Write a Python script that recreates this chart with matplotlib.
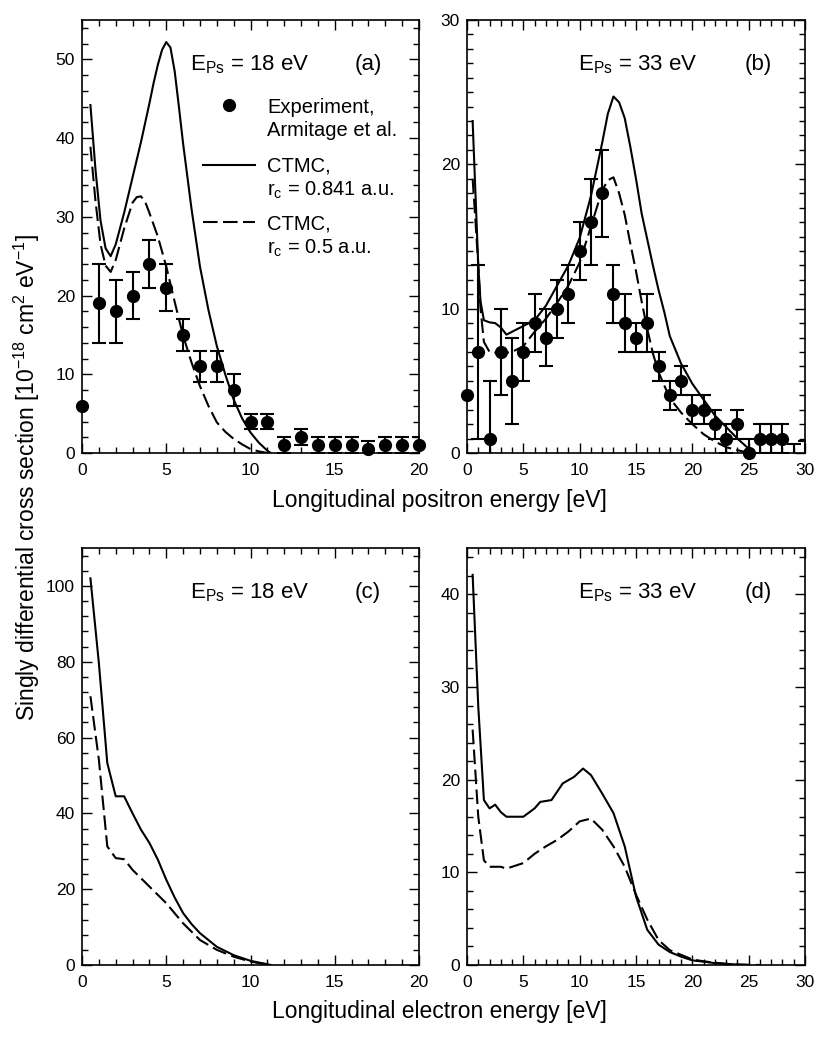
import numpy as np
import matplotlib
matplotlib.use("Agg")
import matplotlib.pyplot as plt
from matplotlib.ticker import MultipleLocator

plt.rcParams['font.family'] = ['Liberation Sans', 'DejaVu Sans']
plt.rcParams['mathtext.fontset'] = 'custom'
plt.rcParams['mathtext.rm'] = 'Liberation Sans'
plt.rcParams['mathtext.it'] = 'Liberation Sans'
plt.rcParams['mathtext.bf'] = 'Liberation Sans'

# ---------------- data ----------------
# (a) E_Ps = 18 eV, positron energy
exp_a_x = [0, 1, 2, 3, 4, 5, 6, 7, 8, 9, 10, 11, 12, 13, 14, 15, 16, 17, 18, 19, 20]
exp_a_y = [6, 19, 18, 20, 24, 21, 15, 11, 11, 8, 4, 4, 1, 2, 1, 1, 1, 0.5, 1, 1, 1]
exp_a_err = [0, 5, 4, 3, 3, 3, 2, 2, 2, 2, 1, 1, 1, 1, 1, 1, 1, 1, 1, 1, 1]

sol_a_x = [0.5, 0.8, 1.1, 1.4, 1.7, 2.0, 2.5, 3.0, 3.5, 4.0, 4.25, 4.5, 4.75, 5.0, 5.25, 5.5, 5.75, 6.0, 6.5, 7.0, 7.5, 8.0, 8.5, 9.0, 9.5, 10.0, 10.5, 11.0, 11.2]
sol_a_y = [44.2, 36.0, 29.5, 26.0, 25.0, 26.5, 30.5, 35.0, 39.5, 44.4, 47.0, 49.3, 51.2, 52.2, 51.5, 48.5, 44.0, 39.3, 31.0, 23.7, 18.2, 13.6, 10.0, 6.8, 4.4, 2.6, 1.3, 0.3, 0.0]
das_a_x = [0.5, 0.8, 1.1, 1.4, 1.7, 2.0, 2.5, 3.0, 3.25, 3.5, 3.75, 4.0, 4.5, 5.0, 5.5, 6.0, 6.5, 7.0, 7.5, 8.0, 8.5, 9.0, 9.5, 10.0, 10.5, 11.0]
das_a_y = [38.9, 32.0, 26.5, 23.8, 23.0, 24.5, 28.5, 31.8, 32.5, 32.6, 31.9, 30.5, 27.5, 23.7, 19.2, 14.9, 11.5, 8.5, 6.0, 3.9, 2.7, 1.8, 1.1, 0.5, 0.2, 0.0]

# (b) E_Ps = 33 eV, positron energy
exp_b_x = [0, 1, 2, 3, 4, 5, 6, 7, 8, 9, 10, 11, 12, 13, 14, 15, 16, 17, 18, 19, 20, 21, 22, 23, 24, 25, 26, 27, 28]
exp_b_y = [4, 7, 1, 7, 5, 7, 9, 8, 10, 11, 14, 16, 18, 11, 9, 8, 9, 6, 4, 5, 3, 3, 2, 1, 2, 0, 1, 1, 1]
exp_b_err = [0, 6, 4, 3, 3, 2, 2, 2, 2, 2, 2, 3, 3, 2, 2, 1, 2, 1, 1, 1, 1, 1, 1, 1, 1, 1, 1, 1, 1]
exp_b_tail_x = [29, 30]
exp_b_tail_y = [-0.5, -0.5]
exp_b_tail_err = [1.1, 1.35]

sol_b_x = [0.5, 0.8, 1.0, 1.2, 1.5, 2.0, 2.5, 3.0, 3.5, 4.0, 5.0, 6.0, 7.0, 8.0, 9.0, 10.0, 11.0, 12.0, 12.5, 13.0, 13.5, 14.0, 14.5, 15.0, 15.5, 16.0, 16.5, 17.0, 17.5, 18.0, 19.0, 20.0, 21.0, 22.0, 23.0, 24.0, 25.0, 25.5]
sol_b_y = [23.0, 17.0, 13.0, 10.5, 9.2, 9.05, 9.0, 8.7, 8.2, 8.4, 8.8, 9.2, 10.2, 11.6, 13.0, 14.9, 17.8, 21.5, 23.5, 24.7, 24.3, 23.2, 21.2, 19.0, 16.6, 14.8, 13.0, 11.3, 9.8, 8.1, 6.2, 4.8, 3.7, 2.6, 1.8, 1.0, 0.3, 0.0]
das_b_x = [0.5, 0.8, 1.0, 1.2, 1.5, 2.0, 3.0, 4.0, 5.0, 6.0, 7.0, 8.0, 9.0, 10.0, 11.0, 12.0, 12.5, 13.0, 13.5, 14.0, 14.5, 15.0, 15.5, 16.0, 16.5, 17.0, 18.0, 19.0, 20.0, 21.0, 22.0, 23.0, 24.0, 25.0]
das_b_y = [19.0, 15.5, 13.0, 10.0, 7.7, 7.0, 6.9, 7.0, 7.4, 8.4, 9.3, 10.4, 11.6, 13.2, 15.7, 18.2, 18.9, 19.1, 18.0, 16.5, 14.5, 12.6, 10.5, 8.6, 6.9, 5.6, 3.8, 2.8, 2.0, 1.3, 0.8, 0.4, 0.2, 0.0]

# (c) E_Ps = 18 eV, electron energy
sol_c_x = [0.5, 1.0, 1.5, 2.0, 2.5, 3.0, 3.5, 4.0, 4.5, 5.0, 5.5, 6.0, 6.5, 7.0, 8.0, 9.0, 10.0, 11.0, 11.2]
sol_c_y = [102.0, 79.7, 53.3, 44.5, 44.5, 40.0, 35.7, 32.2, 27.8, 22.5, 17.8, 13.7, 10.8, 8.4, 4.8, 2.6, 1.1, 0.2, 0.0]
das_c_x = [0.5, 1.0, 1.5, 2.0, 2.5, 3.0, 4.0, 5.0, 6.0, 7.0, 8.0, 9.0, 10.0, 11.0]
das_c_y = [70.9, 54.2, 31.3, 28.2, 27.9, 25.1, 20.7, 16.3, 11.0, 6.6, 4.0, 2.2, 0.9, 0.1]

# (d) E_Ps = 33 eV, electron energy
sol_d_x = [0.5, 1.0, 1.5, 2.0, 2.5, 3.0, 3.5, 5.0, 6.0, 6.5, 7.5, 8.5, 9.5, 10.3, 11.0, 12.0, 13.0, 14.0, 15.0, 16.0, 17.0, 18.0, 19.0, 20.0, 21.0, 22.0, 24.0, 25.0]
sol_d_y = [42.1, 27.9, 17.8, 16.9, 17.3, 16.5, 16.0, 16.0, 16.9, 17.6, 17.8, 19.6, 20.3, 21.2, 20.5, 18.5, 16.4, 12.8, 7.4, 3.8, 2.2, 1.4, 0.9, 0.5, 0.36, 0.2, 0.05, 0.0]
das_d_x = [0.5, 1.0, 1.5, 2.0, 3.0, 3.5, 5.0, 6.0, 7.0, 8.0, 9.0, 10.0, 11.0, 12.0, 13.0, 14.0, 15.0, 16.0, 17.0, 18.0, 19.0, 20.0, 21.0, 22.0, 23.0, 24.0, 26.0]
das_d_y = [25.4, 16.0, 11.3, 10.6, 10.6, 10.4, 11.0, 12.0, 12.8, 13.5, 14.4, 15.5, 15.8, 14.6, 12.8, 10.6, 7.6, 4.9, 2.7, 1.6, 1.1, 0.6, 0.4, 0.25, 0.12, 0.05, 0.0]

# ---------------- figure ----------------
W, H = 815, 1043
fig = plt.figure(figsize=(W / 100, H / 100), dpi=100)


def add_ax(l, r, t, b):
    return fig.add_axes([l / W, 1 - b / H, (r - l) / W, (b - t) / H])


axa = add_ax(82, 419, 20, 453)
axb = add_ax(467, 805, 20, 453)
axc = add_ax(82, 419, 548, 965)
axd = add_ax(467, 805, 548, 965)

LW = 1.5
DASH = (7, 2.6)


def style(ax, xmax, xmaj, xmin_, ymax, ymaj, ymin_):
    ax.set_xlim(0, xmax)
    ax.set_ylim(0, ymax)
    ax.xaxis.set_major_locator(MultipleLocator(xmaj))
    ax.xaxis.set_minor_locator(MultipleLocator(xmin_))
    ax.yaxis.set_major_locator(MultipleLocator(ymaj))
    ax.yaxis.set_minor_locator(MultipleLocator(ymin_))
    ax.tick_params(which='both', direction='in', top=True, right=True,
                   labelsize=12.5, width=1.0)
    ax.tick_params(axis='x', which='major', pad=7)
    ax.tick_params(axis='y', which='major', pad=5)
    ax.tick_params(which='major', length=7)
    ax.tick_params(which='minor', length=4)
    for s in ax.spines.values():
        s.set_linewidth(1.2)


def draw_exp(ax, x, y, err):
    ax.errorbar(x, y, yerr=err, fmt='none', ecolor='black', elinewidth=1.5,
                capsize=5, capthick=1.5, clip_on=True)
    ax.plot(x, y, 'o', color='black', markersize=8.5, clip_on=False, zorder=5)


# (a)
style(axa, 20, 5, 1, 55, 10, 2)
draw_exp(axa, exp_a_x, exp_a_y, exp_a_err)
axa.plot(sol_a_x, sol_a_y, '-', color='black', lw=LW)
axa.plot(das_a_x, das_a_y, color='black', lw=LW, dashes=DASH)

# (b)
style(axb, 30, 5, 1, 30, 10, 1)
draw_exp(axb, exp_b_x, exp_b_y, exp_b_err)
axb.errorbar(exp_b_tail_x, exp_b_tail_y, yerr=exp_b_tail_err, fmt='o', color='black',
             markersize=8.5, elinewidth=1.5, capsize=5, capthick=1.5, clip_on=True)
axb.plot(sol_b_x, sol_b_y, '-', color='black', lw=LW)
axb.plot(das_b_x, das_b_y, color='black', lw=LW, dashes=DASH)

# (c)
style(axc, 20, 5, 1, 110, 20, 4)
axc.plot(sol_c_x, sol_c_y, '-', color='black', lw=LW)
axc.plot(das_c_x, das_c_y, color='black', lw=LW, dashes=DASH)

# (d)
style(axd, 30, 5, 1, 45, 10, 2)
axd.plot(sol_d_x, sol_d_y, '-', color='black', lw=LW)
axd.plot(das_d_x, das_d_y, color='black', lw=LW, dashes=DASH)


def ftext(x, y, s, **kw):
    fig.text(x / W, 1 - y / H, s, **kw)


TS = 16
ftext(190, 70, r'E$_{\mathrm{Ps}}$ = 18 eV', fontsize=TS, va='baseline', ha='left')
ftext(368, 70, '(a)', fontsize=TS, va='baseline', ha='center')
ftext(578, 70, r'E$_{\mathrm{Ps}}$ = 33 eV', fontsize=TS, va='baseline', ha='left')
ftext(758, 70, '(b)', fontsize=TS, va='baseline', ha='center')
ftext(190, 598, r'E$_{\mathrm{Ps}}$ = 18 eV', fontsize=TS, va='baseline', ha='left')
ftext(368, 598, '(c)', fontsize=TS, va='baseline', ha='center')
ftext(578, 598, r'E$_{\mathrm{Ps}}$ = 33 eV', fontsize=TS, va='baseline', ha='left')
ftext(758, 598, '(d)', fontsize=TS, va='baseline', ha='center')

# legend (manual, inside panel a)
LS = 14.5
fig.add_artist(plt.Line2D([229 / W], [1 - 105 / H], marker='o', color='black',
                          markersize=8.5, linestyle='none'))
ftext(267, 113, 'Experiment,', fontsize=LS, va='baseline', ha='left')
ftext(267, 136, 'Armitage et al.', fontsize=LS, va='baseline', ha='left')
fig.add_artist(plt.Line2D([203 / W, 255 / W], [1 - 165 / H, 1 - 165 / H], color='black', lw=LW))
ftext(267, 172, 'CTMC,', fontsize=LS, va='baseline', ha='left')
ftext(267, 196, r'r$_{\mathrm{c}}$ = 0.841 a.u.', fontsize=LS, va='baseline', ha='left')
fig.add_artist(plt.Line2D([203 / W, 255 / W], [1 - 222 / H, 1 - 222 / H], color='black', lw=LW, dashes=DASH))
ftext(267, 230, 'CTMC,', fontsize=LS, va='baseline', ha='left')
ftext(267, 254, r'r$_{\mathrm{c}}$ = 0.5 a.u.', fontsize=LS, va='baseline', ha='left')

# axis labels
AL = 16.5
ftext(439, 507, 'Longitudinal positron energy [eV]', fontsize=AL, va='baseline', ha='center')
ftext(439, 1018, 'Longitudinal electron energy [eV]', fontsize=AL, va='baseline', ha='center')
ftext(27, 477, r'Singly differential cross section [10$^{\mathrm{-18}}$ cm$^{\mathrm{2}}$ eV$^{\mathrm{-1}}$]',
      fontsize=AL, va='center', ha='center', rotation=90)

fig.savefig('out.png', dpi=100)
